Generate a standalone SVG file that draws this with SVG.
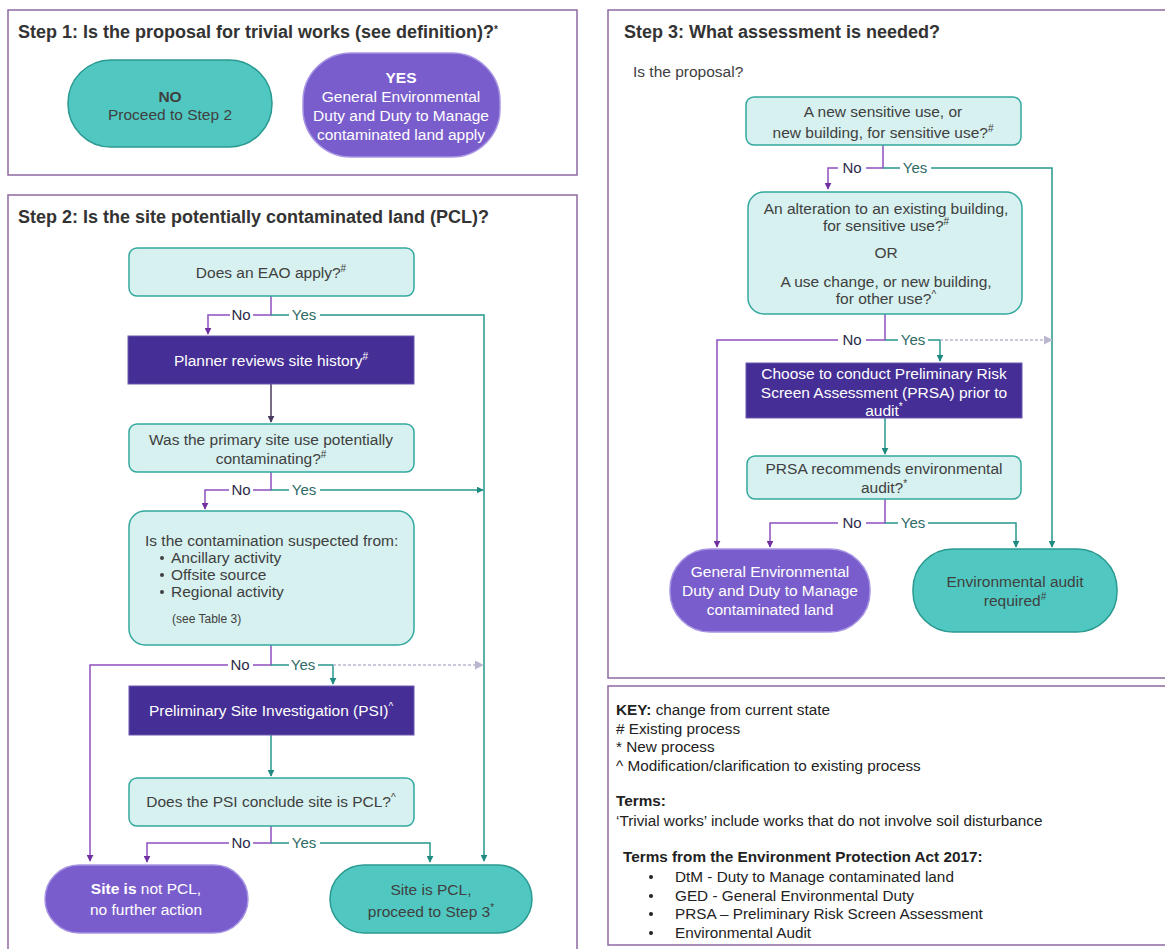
<svg xmlns="http://www.w3.org/2000/svg" width="1165" height="949" viewBox="0 0 1165 949">
<style>
.panel{fill:#fff;stroke:#8e6aa0;stroke-width:1.5}
.title{font-family:"Liberation Sans",Arial,sans-serif;font-size:18px;font-weight:bold;fill:#333}
.q{fill:#d6f1ef;stroke:#33a89e;stroke-width:1.5}
.dk{fill:#452e95;stroke:#6a58b0;stroke-width:1}
.pp{fill:#7a5dcc;stroke:#a795e3;stroke-width:1.5}
.tp{fill:#50c8c1;stroke:#2a9990;stroke-width:1.5}
.t{font-family:"Liberation Sans",Arial,sans-serif;font-size:15.5px;fill:#404040;text-anchor:middle}
.tw{font-family:"Liberation Sans",Arial,sans-serif;font-size:15.5px;fill:#fff;text-anchor:middle}
.tl{font-family:"Liberation Sans",Arial,sans-serif;font-size:15.5px;fill:#404040}
.k{font-family:"Liberation Sans",Arial,sans-serif;font-size:15.3px;fill:#222}
.sup{font-size:10px}
.lp{fill:none;stroke:#8e4fc0;stroke-width:1.5}
.lt{fill:none;stroke:#26978c;stroke-width:1.5}
.ld{fill:none;stroke:#4a3a5e;stroke-width:1.5}
.lg{fill:none;stroke:#bcb5cf;stroke-width:1.3;stroke-dasharray:3 2}
.no{font-family:"Liberation Sans",Arial,sans-serif;font-size:15px;fill:#2b2a4a;text-anchor:middle}
.yes{font-family:"Liberation Sans",Arial,sans-serif;font-size:15px;fill:#2f6a66;text-anchor:middle}
</style>
<defs>
<marker id="ap" viewBox="0 0 10 10" refX="9" refY="5" markerWidth="7" markerHeight="7" markerUnits="userSpaceOnUse" orient="auto"><path d="M0,0L10,5L0,10z" fill="#7030a0"/></marker>
<marker id="at" viewBox="0 0 10 10" refX="9" refY="5" markerWidth="7" markerHeight="7" markerUnits="userSpaceOnUse" orient="auto"><path d="M0,0L10,5L0,10z" fill="#1f8a80"/></marker>
<marker id="ad" viewBox="0 0 10 10" refX="9" refY="5" markerWidth="7" markerHeight="7" markerUnits="userSpaceOnUse" orient="auto"><path d="M0,0L10,5L0,10z" fill="#4a3a5e"/></marker>
<marker id="ag" viewBox="0 0 10 10" refX="9" refY="5" markerWidth="9" markerHeight="9" markerUnits="userSpaceOnUse" orient="auto"><path d="M0,0L10,5L0,10z" fill="#bcb5cf"/></marker>
</defs>
<rect width="1165" height="949" fill="#fff"/>

<!-- panels -->
<g id="panel-step1">
<rect class="panel" x="8" y="10" width="569" height="165"/>
<text class="title" x="18" y="38">Step 1: Is the proposal for trivial works (see definition)?<tspan class="sup" dy="-5">*</tspan></text>
</g>
<g id="panel-step2">
<rect class="panel" x="8" y="195" width="569" height="770"/>
<text class="title" x="18" y="223">Step 2: Is the site potentially contaminated land (PCL)?</text>
</g>
<g id="panel-step3">
<rect class="panel" x="608" y="10" width="570" height="668"/>
<text class="title" x="624" y="38">Step 3: What assessment is needed?</text>
<text class="tl" x="633" y="77">Is the proposal?</text>
</g>
<g id="panel-key">
<rect class="panel" x="608" y="686" width="570" height="259"/>
<text class="k" x="616" y="715"><tspan font-weight="bold">KEY:</tspan> change from current state</text>
<text class="k" x="616" y="734"># Existing process</text>
<text class="k" x="616" y="752">* New process</text>
<text class="k" x="616" y="771">^ Modification/clarification to existing process</text>
<text class="k" x="616" y="806" font-weight="bold">Terms:</text>
<text class="k" x="616" y="826">‘Trivial works’ include works that do not involve soil disturbance</text>
<text class="k" x="623" y="862" font-weight="bold">Terms from the Environment Protection Act 2017:</text>
<circle cx="651" cy="877" r="2" fill="#222"/><text class="k" x="675" y="882">DtM - Duty to Manage contaminated land</text>
<circle cx="651" cy="896" r="2" fill="#222"/><text class="k" x="675" y="901">GED - General Environmental Duty</text>
<circle cx="651" cy="914" r="2" fill="#222"/><text class="k" x="675" y="919">PRSA – Preliminary Risk Screen Assessment</text>
<circle cx="651" cy="933" r="2" fill="#222"/><text class="k" x="675" y="938">Environmental Audit</text>
</g>

<!-- connectors -->
<g id="connectors">
<path class="lp" d="M271,296V315H253M230,315H208V334" marker-end="url(#ap)"/>
<path class="lt" d="M271,315H289M320,315H484V861" marker-end="url(#at)"/>
<path class="ld" d="M271,384V422" marker-end="url(#ad)"/>
<path class="lp" d="M271,472V490H253M229,490H205V509" marker-end="url(#ap)"/>
<path class="lt" d="M271,490H289M320,490H483" marker-end="url(#at)"/>
<path class="lp" d="M271,645V665H253M228,665H90V861" marker-end="url(#ap)"/>
<path class="lt" d="M271,665H289M318,665H333V684" marker-end="url(#at)"/>
<path class="lg" d="M333,665H483" marker-end="url(#ag)"/>
<path class="lt" d="M271,735V776" marker-end="url(#at)"/>
<path class="lp" d="M271,826V843H253M229,843H147V862" marker-end="url(#ap)"/>
<path class="lt" d="M271,843H289M320,843H430V862" marker-end="url(#at)"/>
<path class="lp" d="M883,145V168H866M838,168H828V189" marker-end="url(#ap)"/>
<path class="lt" d="M883,168H900M931,168H1052V547" marker-end="url(#at)"/>
<path class="lp" d="M885,314V340H866M838,340H717V547" marker-end="url(#ap)"/>
<path class="lt" d="M885,340H898M928,340H940V361" marker-end="url(#at)"/>
<path class="lg" d="M940,340H1052" marker-end="url(#ag)"/>
<path class="lt" d="M885,418V454" marker-end="url(#at)"/>
<path class="lp" d="M885,499V523H866M838,523H770V547" marker-end="url(#ap)"/>
<path class="lt" d="M885,523H898M928,523H1016V547" marker-end="url(#at)"/>
<text class="no" x="241" y="320">No</text><text class="yes" x="304" y="320">Yes</text>
<text class="no" x="241" y="495">No</text><text class="yes" x="304" y="495">Yes</text>
<text class="no" x="240" y="670">No</text><text class="yes" x="303" y="670">Yes</text>
<text class="no" x="241" y="848">No</text><text class="yes" x="304" y="848">Yes</text>
<text class="no" x="852" y="173">No</text><text class="yes" x="915" y="173">Yes</text>
<text class="no" x="852" y="345">No</text><text class="yes" x="913" y="345">Yes</text>
<text class="no" x="852" y="528">No</text><text class="yes" x="913" y="528">Yes</text>
</g>

<!-- Step 1 nodes -->
<g id="s1-no">
<rect class="tp" x="68" y="60" width="204" height="87" rx="43"/>
<text class="t" x="170" y="102" font-weight="bold" fill="#333">NO</text>
<text class="t" x="170" y="120">Proceed to Step 2</text>
</g>
<g id="s1-yes">
<rect class="pp" x="303" y="53" width="197" height="104" rx="48"/>
<text class="tw" x="401" y="83" font-weight="bold">YES</text>
<text class="tw" x="401" y="102">General Environmental</text>
<text class="tw" x="401" y="121">Duty and Duty to Manage</text>
<text class="tw" x="401" y="140">contaminated land apply</text>
</g>

<!-- Step 2 nodes -->
<g id="s2-eao">
<rect class="q" x="129" y="248" width="285" height="48" rx="8"/>
<text class="t" x="271" y="278">Does an EAO apply?<tspan class="sup" dy="-6">#</tspan></text>
</g>
<g id="s2-planner">
<rect class="dk" x="128" y="336" width="286" height="48"/>
<text class="tw" x="271" y="366">Planner reviews site history<tspan class="sup" dy="-6">#</tspan></text>
</g>
<g id="s2-primary">
<rect class="q" x="129" y="424" width="285" height="48" rx="8"/>
<text class="t" x="271" y="445">Was the primary site use potentially</text>
<text class="t" x="271" y="464">contaminating?<tspan class="sup" dy="-6">#</tspan></text>
</g>
<g id="s2-suspected">
<rect class="q" x="129" y="511" width="285" height="134" rx="16"/>
<text class="tl" x="145" y="546">Is the contamination suspected from:</text>
<circle cx="162" cy="558" r="2" fill="#404040"/><text class="tl" x="171" y="563">Ancillary activity</text>
<circle cx="162" cy="575" r="2" fill="#404040"/><text class="tl" x="171" y="580">Offsite source</text>
<circle cx="162" cy="592" r="2" fill="#404040"/><text class="tl" x="171" y="597">Regional activity</text>
<text class="tl" x="172" y="623" style="font-size:12px">(see Table 3)</text>
</g>
<g id="s2-psi">
<rect class="dk" x="129" y="686" width="285" height="49"/>
<text class="tw" x="271" y="716">Preliminary Site Investigation (PSI)<tspan class="sup" dy="-6">^</tspan></text>
</g>
<g id="s2-conclude">
<rect class="q" x="129" y="778" width="285" height="48" rx="8"/>
<text class="t" x="271" y="807">Does the PSI conclude site is PCL?<tspan class="sup" dy="-6">^</tspan></text>
</g>
<g id="s2-notpcl">
<rect class="pp" x="45" y="865" width="203" height="68" rx="34"/>
<text class="tw" x="146" y="894"><tspan font-weight="bold">Site is</tspan> not PCL,</text>
<text class="tw" x="146" y="915">no further action</text>
</g>
<g id="s2-pcl">
<rect class="tp" x="330" y="865" width="202" height="68" rx="34"/>
<text class="t" x="431" y="895">Site is PCL,</text>
<text class="t" x="431" y="917">proceed to Step 3<tspan class="sup" dy="-6">*</tspan></text>
</g>

<!-- Step 3 nodes -->
<g id="s3-new">
<rect class="q" x="746" y="97" width="275" height="48" rx="8"/>
<text class="t" x="883" y="117">A new sensitive use, or</text>
<text class="t" x="883" y="138">new building, for sensitive use?<tspan class="sup" dy="-6">#</tspan></text>
</g>
<g id="s3-alter">
<rect class="q" x="748" y="192" width="274" height="122" rx="16"/>
<text class="t" x="886" y="214">An alteration to an existing building,</text>
<text class="t" x="886" y="231">for sensitive use?<tspan class="sup" dy="-6">#</tspan></text>
<text class="t" x="886" y="258">OR</text>
<text class="t" x="886" y="287">A use change, or new building,</text>
<text class="t" x="886" y="304">for other use?<tspan class="sup" dy="-6">^</tspan></text>
</g>
<g id="s3-prsa">
<rect class="dk" x="746" y="363" width="276" height="55"/>
<text class="tw" x="884" y="379">Choose to conduct Preliminary Risk</text>
<text class="tw" x="884" y="398">Screen Assessment (PRSA) prior to</text>
<text class="tw" x="884" y="416">audit<tspan class="sup" dy="-6">*</tspan></text>
</g>
<g id="s3-recommends">
<rect class="q" x="747" y="456" width="274" height="43" rx="8"/>
<text class="t" x="884" y="474">PRSA recommends environmental</text>
<text class="t" x="884" y="493">audit?<tspan class="sup" dy="-6">*</tspan></text>
</g>
<g id="s3-ged">
<rect class="pp" x="670" y="549" width="200" height="83" rx="40"/>
<text class="tw" x="770" y="577">General Environmental</text>
<text class="tw" x="770" y="596">Duty and Duty to Manage</text>
<text class="tw" x="770" y="615">contaminated land</text>
</g>
<g id="s3-audit">
<rect class="tp" x="913" y="549" width="204" height="83" rx="40"/>
<text class="t" x="1015" y="587">Environmental audit</text>
<text class="t" x="1015" y="606">required<tspan class="sup" dy="-6">#</tspan></text>
</g>
</svg>
